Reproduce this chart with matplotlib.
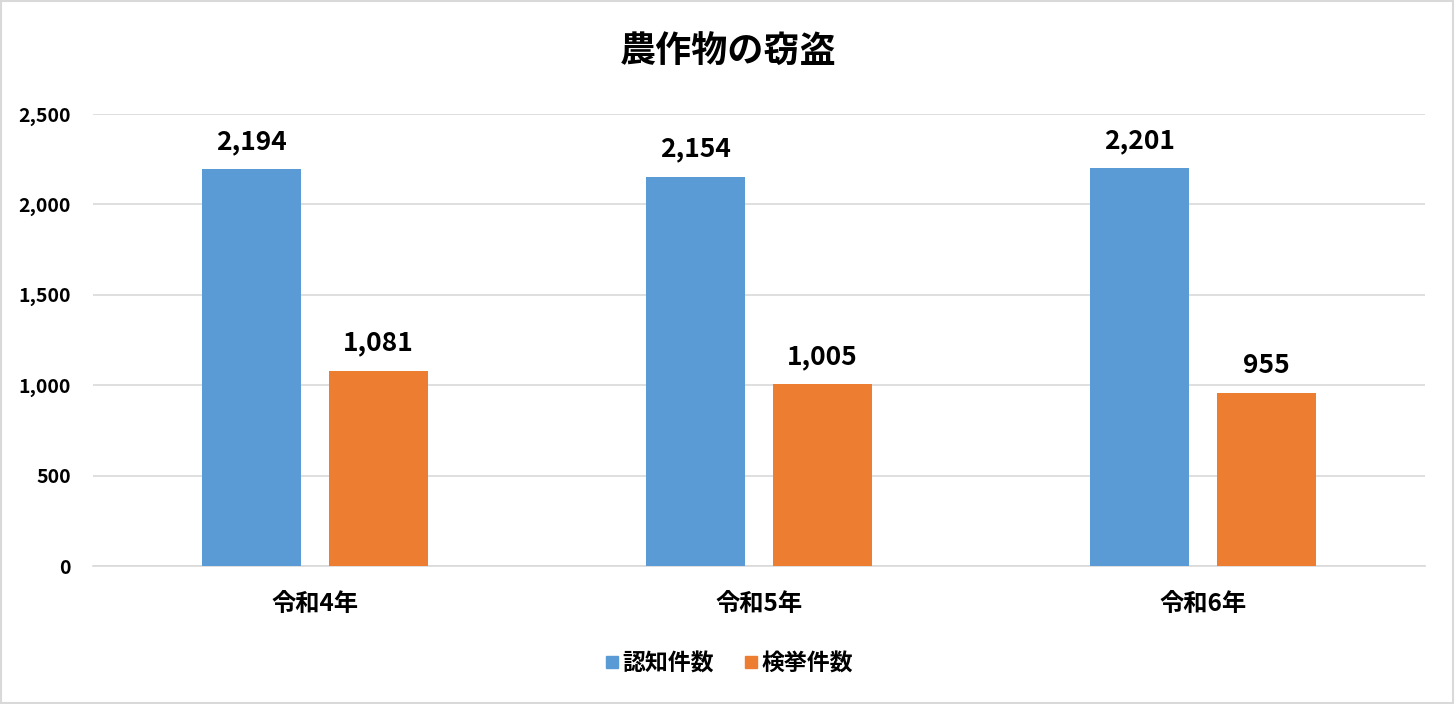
import matplotlib
matplotlib.use("Agg")
import matplotlib.pyplot as plt
from matplotlib.lines import Line2D
from matplotlib.patches import Rectangle
import numpy as np

plt.rcParams['font.family'] = ['Noto Sans CJK JP', 'DejaVu Sans']

categories = ['令和4年', '令和5年', '令和6年']
recognized = [2194, 2154, 2201]
cleared = [1081, 1005, 955]
series_names = ['認知件数', '検挙件数']
yticks = [0, 500, 1000, 1500, 2000, 2500]
title = '農作物の窃盗'

blue = '#5b9bd5'
orange = '#ed7d31'
grid = '#d9d9d9'

fig = plt.figure(figsize=(14.56, 7.04), dpi=100)
ax = fig.add_axes([93/1456, 1-566/704, (1425-93)/1456, (566-114)/704])

x = np.arange(len(categories))
w = 0.223
off = 0.142
b1 = ax.bar(x - off, recognized, w, color=blue, zorder=3)
b2 = ax.bar(x + off, cleared, w, color=orange, zorder=3)

for bars, vals in ((b1, recognized), (b2, cleared)):
    for r, v in zip(bars, vals):
        ax.annotate(f'{v:,}', (r.get_x() + r.get_width()/2, r.get_height()),
                    xytext=(0, 10), textcoords='offset points', ha='center', va='bottom',
                    fontsize=19, fontweight='bold', color='black')

ax.set_xlim(-0.5, 2.5)
ax.set_ylim(0, 2500)
ax.set_yticks(yticks)
ax.set_yticklabels([f'{t:,}' for t in yticks], fontsize=14, fontweight='bold')
ax.set_xticks(x)
ax.set_xticklabels(categories, fontsize=17.5, fontweight='bold')
ax.tick_params(axis='both', length=0)
ax.tick_params(axis='y', pad=16)
ax.tick_params(axis='x', pad=19)
ax.yaxis.grid(True, color=grid, linewidth=1.2, zorder=0)
ax.set_axisbelow(True)
for s in ['left', 'right', 'top']:
    ax.spines[s].set_visible(False)
ax.spines['bottom'].set_color(grid)
ax.spines['bottom'].set_linewidth(1.2)

fig.text(0.5, 1-52/704, title, ha='center', va='center', fontsize=26, fontweight='bold')

handles = [Line2D([], [], marker='s', linestyle='none', markersize=9, color=c) for c in (blue, orange)]
leg = fig.legend(handles, series_names, loc='center', bbox_to_anchor=(0.5, 1-664/704), ncol=2,
                 frameon=False, prop={'size': 16.5, 'weight': 'bold'}, handletextpad=0.05,
                 columnspacing=1.2, handlelength=0.8)

fig.patches.append(Rectangle((0.001, 0.002), 0.997, 0.996, transform=fig.transFigure,
                             fill=False, edgecolor='#d9d9d9', linewidth=1.5))

fig.savefig('out.png', dpi=100, facecolor='white')
